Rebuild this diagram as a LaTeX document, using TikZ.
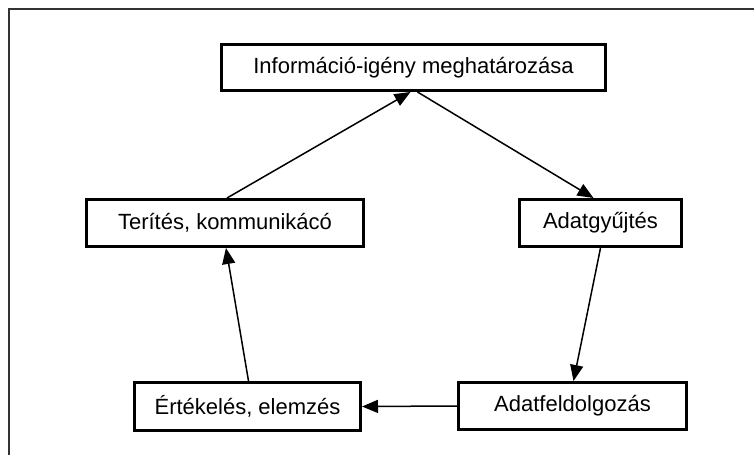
\documentclass[tikz,border=0pt]{standalone}
\usepackage{fontspec}
\setmainfont{Liberation Sans}
\usetikzlibrary{arrows.meta}

\begin{document}
\begin{tikzpicture}[x=1pt,y=-1pt,
    box/.style={draw,line width=3pt,inner sep=0pt,font=\fontsize{22}{26}\selectfont},
    arr/.style={-{Triangle[length=16pt,width=13pt]},line width=1.5pt}]
            \useasboundingbox (0,0) rectangle (754,455);
            \draw[line width=2pt,black!80] (8.5,455)--(8.5,8.5)--(754,8.5);

            \node[box,minimum width=384pt,minimum height=46pt] (info) at (413.5,67.5){Információ-igény meghatározása};
            \node[box,minimum width=277pt,minimum height=47pt] (terites) at (225,223){Terítés, kommunikácó};
            \node[box,minimum width=162pt,minimum height=47pt] (gyujtes) at (600.5,223){Adatgyűjtés};
            \node[box,minimum width=226pt,minimum height=48pt] (ertekeles) at (247.5,406.5){Értékelés, elemzés};
            \node[box,minimum width=228pt,minimum height=47pt] (feldolg) at (572.5,406){Adatfeldolgozás};

            \draw[arr] ([xshift=4pt]info.south)--([xshift=-7pt]gyujtes.north);
            \draw[arr] (gyujtes.south)--([xshift=1pt]feldolg.north);
            \draw[arr] (feldolg.west)--(ertekeles.east);
            \draw[arr] ([xshift=1pt]ertekeles.north)--([xshift=1pt]terites.south);
            \draw[arr] ([xshift=2pt]terites.north)--([xshift=-3pt]info.south);
        \end{tikzpicture}
\end{document}
